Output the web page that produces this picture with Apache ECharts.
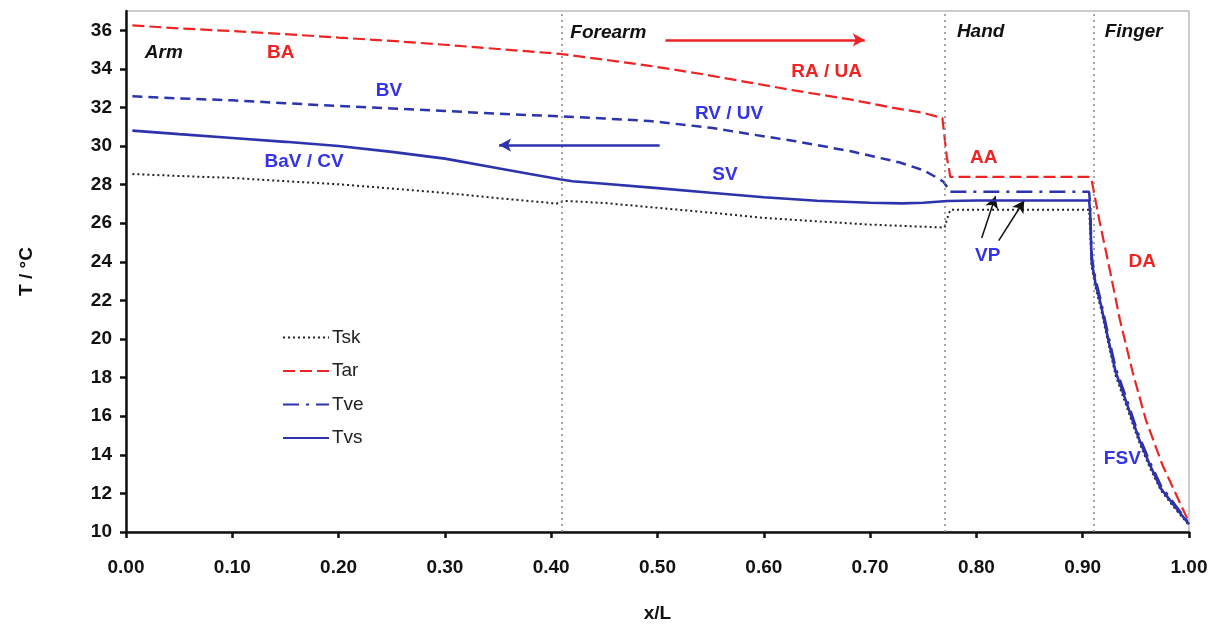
<!DOCTYPE html>
<html><head><meta charset="utf-8">
<script src="https://cdn.jsdelivr.net/npm/echarts@6/dist/echarts.min.js"></script>
<style>html,body{margin:0;padding:0;background:#fff}#c{width:1211px;height:625px}</style>
</head><body><div id="c"></div>
<script>
// ---- data ----
const xTicks = [0,0.1,0.2,0.3,0.4,0.5,0.6,0.7,0.8,0.9,1.0];
const yTicks = [10,12,14,16,18,20,22,24,26,28,30,32,34,36];
const legendNames = ['Tsk','Tar','Tve','Tvs'];
const dividers = [0.408, 0.773, 0.907];

const tskX = [0.006,0.05,0.10,0.15,0.20,0.25,0.30,0.35,0.40,0.404,0.412,0.45,0.50,0.55,0.60,0.65,0.70,0.75,0.770,0.774,0.776,0.80,0.85,0.90,0.906,0.9072,0.9082,0.912,0.917,0.924,0.931,0.94,0.9528,0.963,0.9736,0.987,1.0];
const tskY = [28.55,28.45,28.35,28.18,28.02,27.8,27.57,27.3,27.05,27.0,27.16,27.05,26.8,26.55,26.28,26.1,25.93,25.82,25.78,26.5,26.7,26.7,26.7,26.7,26.7,25.4,23.8,22.7,21.6,19.8,18.1,16.7,14.7,13.35,12.15,11.2,10.35];

const tarX = [0.006,0.05,0.1,0.15,0.2,0.25,0.3,0.35,0.408,0.45,0.4925,0.54,0.587,0.63,0.681,0.72,0.75,0.768,0.772,0.7755,0.80,0.85,0.906,0.908,0.9156,0.9258,0.935,0.9469,0.9595,0.9752,1.0];
const tarY = [36.25,36.1,35.96,35.8,35.62,35.45,35.25,35.03,34.78,34.48,34.16,33.75,33.29,32.87,32.42,32.0,31.72,31.45,29.5,28.4,28.4,28.4,28.4,28.35,26.17,23.5,21.0,18.3,15.8,13.45,10.5];

const tveArmX = [0.006,0.05,0.1,0.15,0.2,0.25,0.3,0.35,0.408,0.45,0.4925,0.55,0.587,0.63,0.681,0.728,0.75,0.76,0.769,0.7755];
const tveArmY = [32.58,32.47,32.37,32.22,32.08,31.95,31.82,31.68,31.54,31.43,31.3,30.95,30.62,30.25,29.74,29.15,28.75,28.45,28.15,27.63];

const tveHandX = [0.7755,0.80,0.85,0.906,0.907,0.9075,0.9085,0.912,0.917,0.924,0.931,0.94,0.9528,0.963,0.9736,0.987,1.0];
const tveHandY = [27.63,27.63,27.63,27.63,27.0,26.0,24.3,23.1,22.0,20.2,18.5,17.1,15.0,13.65,12.4,11.4,10.45];

const tvsX = [0.006,0.05,0.10,0.15,0.20,0.25,0.30,0.35,0.38,0.408,0.42,0.45,0.50,0.55,0.60,0.65,0.70,0.73,0.75,0.773,0.80,0.85,0.906,0.907,0.9075,0.9085,0.912,0.917,0.924,0.931,0.94,0.9528,0.963,0.9736,0.987,1.0];
const tvsY = [30.8,30.62,30.42,30.22,30.0,29.7,29.35,28.85,28.55,28.28,28.18,28.05,27.82,27.58,27.35,27.17,27.06,27.03,27.06,27.15,27.18,27.18,27.18,26.6,25.6,24.0,22.9,21.8,20.0,18.3,16.9,14.85,13.5,12.25,11.3,10.4];

const noteText  = ['Arm','Forearm','Hand','Finger','BA','BV','BaV / CV','RA / UA','RV / UV','SV','AA','VP','DA','FSV'];
const noteX     = [0.0356,0.4537,0.804,0.948,0.1456,0.2474,0.1675,0.659,0.5673,0.5635,0.8069,0.8106,0.956,0.9373];
const noteY     = [34.82,35.85,35.94,35.9,34.85,32.86,29.2,33.83,31.67,28.51,29.37,24.31,24.01,13.77];
const noteKind  = ['region','region','region','region','red','blue','blue','red','blue','blue','red','blue','red','blue'];

const arrowFrom = [[0.5075,35.5],[0.502,30.05],[0.805,25.24],[0.821,25.1]];
const arrowTo   = [[0.695,35.5],[0.351,30.05],[0.818,27.4],[0.845,27.18]];
const arrowKind = ['red','navy','black','black'];

// ---- styling ----
const FONT = 'Liberation Sans, Arial, sans-serif';
const RED = '#ee2424', BLUE = '#3434e6', LINEBLUE = '#2d32ad';
const kindColor = {region:'#111', red:RED, blue:BLUE, navy:LINEBLUE, black:'#111'};
const zip = (xs, ys) => xs.map((x, i) => [x, ys[i]]);

const noteData = noteText.map((t, i) => ({
  value: [noteX[i], noteY[i]],
  itemStyle: {opacity: 1},
  label: {
    show: true, position: 'inside', formatter: t, opacity: 1,
    color: kindColor[noteKind[i]], fontFamily: FONT, fontSize: 19, fontWeight: 'bold',
    fontStyle: noteKind[i] === 'region' ? 'italic' : 'normal'
  }
}));
const arrowData = arrowFrom.map((f, i) => [
  {coord: f, lineStyle: {color: kindColor[arrowKind[i]], width: arrowKind[i]==='black'?1.5:2.5, type:'solid'}},
  {coord: arrowTo[i]}
]);

const chart = echarts.init(document.getElementById('c'), null, {renderer: 'canvas'});
chart.setOption({
  animation: false,
  backgroundColor: '#fff',
  grid: {left: 126, right: 22, top: 11, bottom: 93, show: true, borderColor: '#999', borderWidth: 1,
         containLabel: false, outerBoundsMode: 'none'},
  legend: {
    data: legendNames, orient: 'vertical', left: 277, top: 323,
    itemWidth: 46, itemHeight: 14, itemGap: 14.5,
    itemStyle: {opacity: 0},
    textStyle: {fontFamily: FONT, fontSize: 19, color: '#222', padding: [0,0,0,-2]},
    selectedMode: false
  },
  xAxis: {
    type: 'value', min: 0, max: 1, interval: 0.1,
    name: 'x/L', nameLocation: 'middle', nameGap: 72,
    nameTextStyle: {fontFamily: FONT, fontSize: 19, fontWeight: 'bold', color: '#111'},
    axisLine: {lineStyle: {color: '#111', width: 2.5}},
    axisTick: {length: 6, lineStyle: {color: '#111', width: 2.5}},
    axisLabel: {margin: 26, fontFamily: FONT, fontSize: 19, fontWeight: 'bold', color: '#111',
      formatter: v => xTicks.some(t => Math.abs(t - v) < 1e-9) ? v.toFixed(2) : ''},
    splitLine: {show: false}
  },
  yAxis: {
    type: 'value', min: 10, max: 37,
    name: 'T / °C', nameLocation: 'middle', nameGap: 90,
    nameTextStyle: {fontFamily: FONT, fontSize: 19, fontWeight: 'bold', color: '#111'},
    axisLine: {show: true, lineStyle: {color: '#111', width: 2.5}},
    axisTick: {show: true, length: 6, customValues: yTicks, lineStyle: {color: '#111', width: 2.5}},
    axisLabel: {margin: 14, customValues: yTicks, fontFamily: FONT, fontSize: 19, fontWeight: 'bold', color: '#111'},
    splitLine: {show: false}
  },
  series: [
    {
      name: 'Tsk', type: 'line', data: zip(tskX, tskY), symbol: 'none', z: 3,
      itemStyle: {color: '#222'},
      lineStyle: {color: '#222', width: 2, type: [2, 3]},
      markLine: {
        silent: true, symbol: 'none', label: {show: false},
        lineStyle: {color: '#888', width: 1.5, type: [2, 4]},
        data: dividers.map(d => ({xAxis: d}))
      }
    },
    {
      name: 'Tar', type: 'line', data: zip(tarX, tarY), symbol: 'none', z: 4,
      itemStyle: {color: RED},
      lineStyle: {color: RED, width: 2.2, type: [12, 5]}
    },
    {
      name: 'Tve', type: 'line', data: zip(tveHandX, tveHandY), symbol: 'none', z: 4,
      itemStyle: {color: LINEBLUE},
      lineStyle: {color: LINEBLUE, width: 2.5, type: [16, 7, 3, 7]}
    },
    {
      name: 'Tve', type: 'line', data: zip(tveArmX, tveArmY), symbol: 'none', z: 4,
      itemStyle: {color: LINEBLUE},
      lineStyle: {color: LINEBLUE, width: 2.5, type: [10, 6]}
    },
    {
      name: 'Tvs', type: 'line', data: zip(tvsX, tvsY), symbol: 'none', z: 5,
      itemStyle: {color: LINEBLUE},
      lineStyle: {color: LINEBLUE, width: 2.6, type: 'solid'}
    },
    {
      name: 'notes', type: 'scatter', data: noteData, symbolSize: 0, silent: true, z: 6,
      itemStyle: {opacity: 1},
      markLine: {
        silent: true, symbol: ['none', 'arrow'], symbolSize: [10, 12], label: {show: false},
        data: arrowData
      }
    }
  ]
});
</script></body></html>
